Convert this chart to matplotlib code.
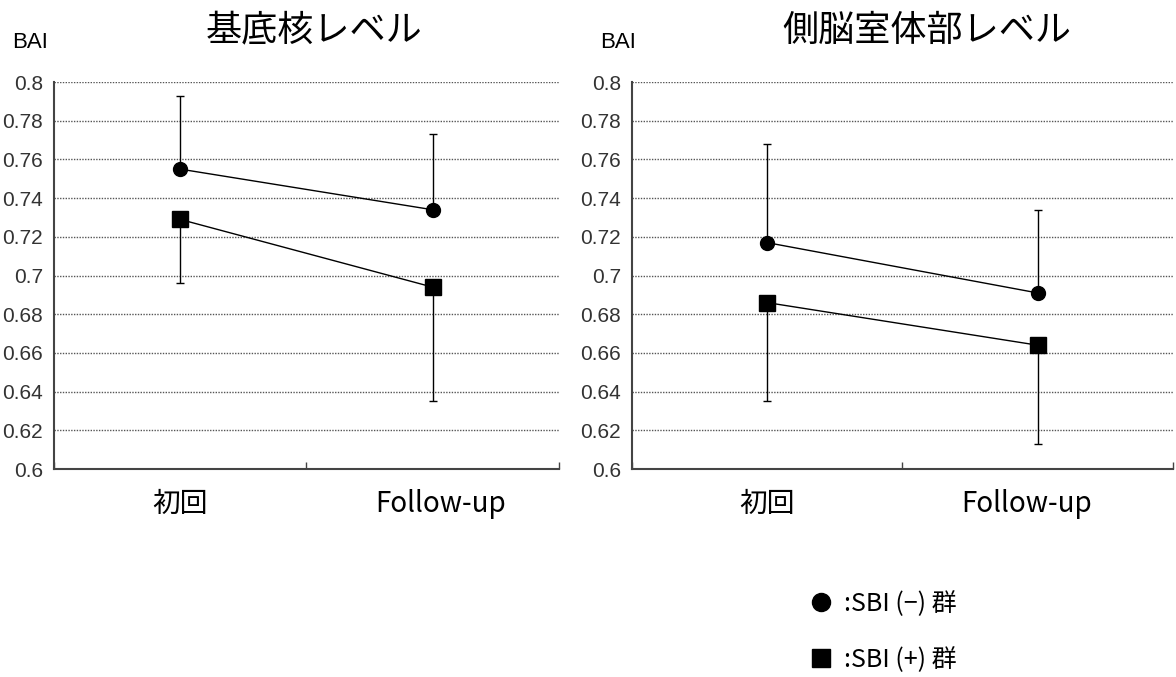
import numpy as np
import matplotlib
matplotlib.use("Agg")
import matplotlib.pyplot as plt
from matplotlib.lines import Line2D

plt.rcParams["font.family"] = ["Noto Sans CJK JP", "DejaVu Sans"]

# Data
categories = ["初回", "Follow-up"]
titles = ["基底核レベル", "側脳室体部レベル"]

# SBI(-) group: means and upper error bar ends
neg_mean = [[0.755, 0.734], [0.717, 0.691]]
neg_upper = [[0.793, 0.773], [0.768, 0.734]]
# SBI(+) group: means and lower error bar ends
pos_mean = [[0.729, 0.694], [0.686, 0.664]]
pos_lower = [[0.696, 0.635], [0.635, 0.613]]

yticks = [0.6, 0.62, 0.64, 0.66, 0.68, 0.7, 0.72, 0.74, 0.76, 0.78, 0.8]
ytick_labels = ["0.6", "0.62", "0.64", "0.66", "0.68", "0.7", "0.72", "0.74", "0.76", "0.78", "0.8"]

legend_labels = [":SBI (−) 群", ":SBI (+) 群"]

TICKFONT = ["Liberation Sans Narrow", "Liberation Sans", "DejaVu Sans"]

fig = plt.figure(figsize=(11.76, 6.77), dpi=100)
positions = [[0.0459, 0.3072, 0.4294, 0.5716], [0.5374, 0.3072, 0.4600, 0.5716]]
title_x = [314, 927]
bai_x = [12, 600]
followup_shift = [0.03, -0.04]

xs = np.array([0.5, 1.5])
for i in range(2):
    ax = fig.add_axes(positions[i])
    m = np.array(neg_mean[i])
    up = np.array(neg_upper[i]) - m
    ax.errorbar(xs, m, yerr=[np.zeros(2), up], color="k", lw=1.0, elinewidth=1.0,
                capsize=3, capthick=1.0, marker="o", ms=10, zorder=4)
    m = np.array(pos_mean[i])
    lo = m - np.array(pos_lower[i])
    ax.errorbar(xs, m, yerr=[lo, np.zeros(2)], color="k", lw=1.0, elinewidth=1.0,
                capsize=3, capthick=1.0, marker="s", ms=11, zorder=4)

    ax.set_xlim(0, 2)
    ax.set_ylim(0.6, 0.8)
    ax.set_yticks(yticks)
    ax.set_yticklabels(ytick_labels, family=TICKFONT, fontsize=15, color="#333333")
    ax.tick_params(axis="y", length=0, pad=8)
    ax.set_xticks([0, 1, 2])
    ax.set_xticklabels([])
    ax.tick_params(axis="x", direction="in", length=5, width=1, color="#444444")
    for x, lab in zip(xs, categories):
        if lab == "Follow-up":
            x = x + followup_shift[i]
        ax.text(x, -0.09, lab, transform=ax.get_xaxis_transform(),
                ha="center", va="center", fontsize=20)

    ax.grid(axis="y", linestyle=(0, (1, 1)), color="#555555", lw=1.0)
    ax.set_axisbelow(True)
    for s in ["top", "right"]:
        ax.spines[s].set_visible(False)
    for s in ["left", "bottom"]:
        ax.spines[s].set_color("#444444")
        ax.spines[s].set_linewidth(1.5)

    fig.text(title_x[i] / 1176, 1 - 31 / 677, titles[i], ha="center", va="center",
             fontsize=26)
    fig.text(bai_x[i] / 1176, 1 - 42 / 677, "BAI", ha="left", va="center",
             fontsize=16, family=TICKFONT)

handles = [Line2D([], [], marker="o", ls="none", color="k", ms=13),
           Line2D([], [], marker="s", ls="none", color="k", ms=13)]
fig.legend(handles, legend_labels, loc="upper left", bbox_to_anchor=(791 / 1176, 1 - 576 / 677),
           frameon=False, fontsize=18, handletextpad=0.3, labelspacing=1.2, handlelength=1.2,
           borderaxespad=0.2)

fig.savefig("out.png", dpi=100, facecolor="white")
